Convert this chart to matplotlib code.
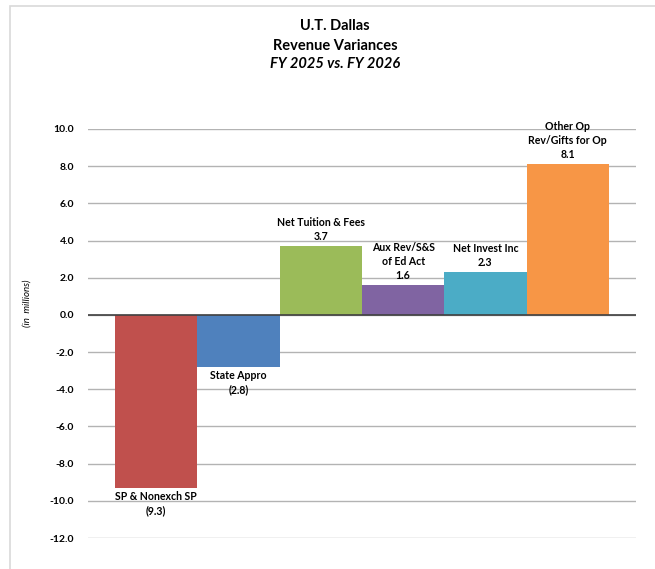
import matplotlib
matplotlib.use("Agg")
import matplotlib.pyplot as plt
from matplotlib.patches import Rectangle

categories = ["SP & Nonexch SP", "State Appro", "Net Tuition & Fees",
              "Aux Rev/S&S\nof Ed Act", "Net Invest Inc", "Other Op\nRev/Gifts for Op"]
values = [-9.3, -2.8, 3.7, 1.6, 2.3, 8.1]
colors = ["#C0504D", "#4F81BD", "#9BBB59", "#8064A2", "#4BACC6", "#F79646"]
yticks = [10, 8, 6, 4, 2, 0, -2, -4, -6, -8, -10, -12]

plt.rcParams['font.family'] = ['Lato', 'DejaVu Sans']

W, H = 655, 569
fig = plt.figure(figsize=(W / 100, H / 100), dpi=100)

# chart area border
fig.patches.append(Rectangle((9.5 / W, -0.1), 1.2, 1 - 5.5 / H + 0.1,
                             transform=fig.transFigure, fill=False,
                             edgecolor="#d9d9d9", linewidth=1.2))

left, right = 88 / W, 636 / W
bottom, top = 1 - 538 / H, 1 - 129 / H
ax = fig.add_axes([left, bottom, right - left, top - bottom])

x = list(range(len(values)))
ax.bar(x, values, width=1.0, color=colors, zorder=3)
ax.set_xlim(-0.83, len(values) - 1 + 0.83)
ax.set_ylim(-12, 10)
ax.set_yticks(yticks)
ax.set_yticklabels([f"{t:.1f}" for t in yticks], fontsize=7.5, fontweight='bold')
ax.tick_params(axis='y', length=0, pad=10)
ax.set_xticks([])
for s in ax.spines.values():
    s.set_visible(False)
ax.yaxis.grid(True, color="#b3b3b3", linewidth=1.0, zorder=0)
ax.axhline(0, color="#404040", linewidth=1.2, zorder=4)

for xi, v, c in zip(x, values, categories):
    if v >= 0:
        txt = f"{c}\n{v:.1f}"
        ax.annotate(txt, (xi, v), xytext=(0, 3), textcoords="offset points",
                    ha="center", va="bottom", fontsize=7.6, fontweight="bold",
                    linespacing=1.35, zorder=5)
    else:
        txt = f"{c}\n({abs(v):.1f})"
        ax.annotate(txt, (xi, v), xytext=(0, -2), textcoords="offset points",
                    ha="center", va="top", fontsize=7.6, fontweight="bold",
                    linespacing=1.35, zorder=5)

fig.text(335 / W, 1 - 26 / H, "U.T. Dallas", ha="center", va="center",
         fontsize=10.5, fontweight="bold")
fig.text(335 / W, 1 - 46 / H, "Revenue Variances", ha="center", va="center",
         fontsize=10.5, fontweight="bold")
fig.text(335 / W, 1 - 64 / H, "FY 2025 vs. FY 2026", ha="center", va="center",
         fontsize=10.5, fontweight="bold", style="italic")

fig.text(27 / W, 1 - 303 / H, "(in  millions)", ha="center", va="center",
         rotation=90, fontsize=7, style="italic")

fig.savefig("out.png", dpi=100)
